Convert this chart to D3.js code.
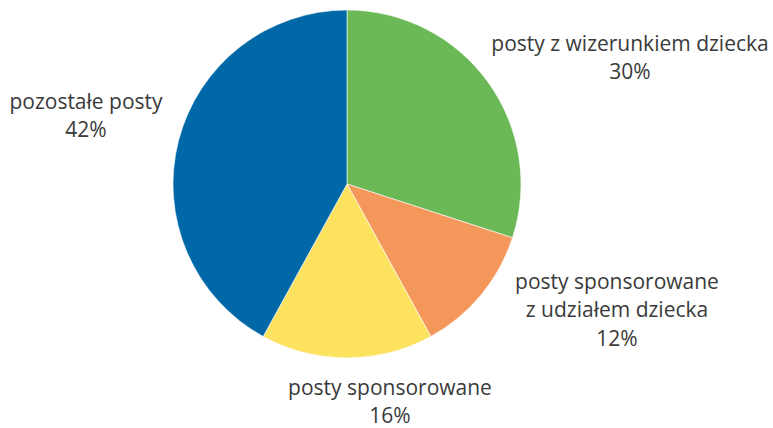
<!DOCTYPE html>
<html>
<head>
<meta charset="utf-8">
<script src="https://cdn.jsdelivr.net/npm/d3@7"></script>
<style>
  body { margin: 0; background: #fff; }
  text { font-family: "Open Sans", sans-serif; font-size: 21px; fill: #3a3a3a; }
</style>
</head>
<body>
<div id="chart"></div>
<script>
// share of posts by type
var categories = ['posty z wizerunkiem dziecka', 'posty sponsorowane z udziałem dziecka', 'posty sponsorowane', 'pozostałe posty'];
var values = [30, 12, 16, 42];
var colors = ['#6ab856', '#f4975a', '#fde25f', '#0068a7'];

// label lines, one array per slice
var labelLines = [
    ['posty z wizerunkiem dziecka'],
    ['posty sponsorowane', 'z udziałem dziecka'],
    ['posty sponsorowane'],
    ['pozostałe posty']
];
// where each label block sits (first baseline), relative to the pie centre
var labelOffset = [[283, -133], [270, 105], [43, 211], [-261, -75]];

var width = 773, height = 428;
var cx = 347, cy = 184, radius = 174;
var lineHeight = 28.3;

var data = values.map(function(v, i) { return { category: categories[i], value: v, i: i }; });

var pie = d3.pie()
    .sort(null)
    .value(function(d) { return d.value; });

var arc = d3.arc()
    .innerRadius(0)
    .outerRadius(radius);

var svg = d3.select('#chart')
    .append('svg')
    .attr('width', width)
    .attr('height', height);

var g = svg.append('g')
    .attr('transform', 'translate(' + cx + ',' + cy + ')');

g.selectAll('path')
    .data(pie(data))
    .enter().append('path')
    .attr('d', arc)
    .style('fill', function(d) { return colors[d.data.i]; })
    .style('stroke', '#fff')
    .style('stroke-width', 0.6);

// labels: name lines followed by the percentage
var labels = g.selectAll('text.label')
    .data(pie(data))
    .enter().append('text')
    .attr('class', 'label')
    .attr('text-anchor', 'middle')
    .attr('transform', function(d) {
        var o = labelOffset[d.data.i];
        return 'translate(' + o[0] + ',' + o[1] + ')';
    });

labels.each(function(d) {
    var t = d3.select(this);
    var lines = labelLines[d.data.i].concat([d.data.value + '%']);
    lines.forEach(function(line, k) {
        t.append('tspan')
            .attr('x', 0)
            .attr('y', k * lineHeight)
            .text(line);
    });
});
</script>
</body>
</html>
